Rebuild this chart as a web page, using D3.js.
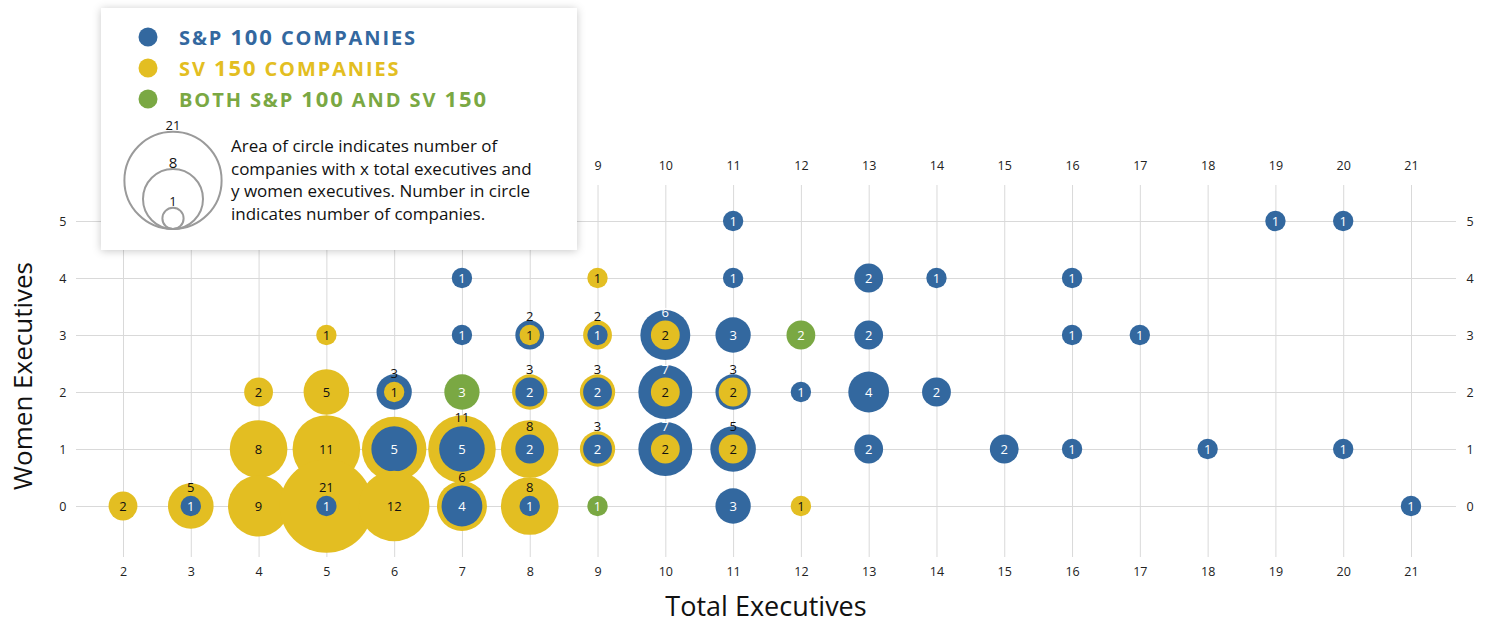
<!DOCTYPE html>
<html><head><meta charset="utf-8">
<script src="https://cdn.jsdelivr.net/npm/d3@7"></script>
<style>
html,body{margin:0;padding:0;background:#fff;}
svg{display:block;font-family:"Open Sans",sans-serif;}
</style></head>
<body>
<svg id="chart" width="1489" height="625"></svg>
<script>
// ---- data: [total executives, women executives, number of companies]
const spCompanies = [
  [3,0,1],[5,0,1],[6,1,5],[6,2,3],[7,0,4],[7,1,5],[7,3,1],[7,4,1],
  [8,0,1],[8,1,2],[8,2,2],[8,3,2],[9,1,2],[9,2,2],[9,3,1],
  [10,1,7],[10,2,7],[10,3,6],[11,0,3],[11,1,5],[11,2,3],[11,3,3],[11,4,1],[11,5,1],
  [12,2,1],[13,1,2],[13,2,4],[13,3,2],[13,4,2],[14,2,2],[14,4,1],[15,1,2],
  [16,1,1],[16,3,1],[16,4,1],[17,3,1],[18,1,1],[19,5,1],[20,1,1],[20,5,1],[21,0,1]
];
const svCompanies = [
  [2,0,2],[3,0,5],[4,0,9],[4,1,8],[4,2,2],[5,0,21],[5,1,11],[5,2,5],[5,3,1],
  [6,0,12],[6,1,10],[6,2,1],[7,0,6],[7,1,11],[8,0,8],[8,1,8],[8,2,3],[8,3,1],
  [9,1,3],[9,2,3],[9,3,2],[9,4,1],[10,1,2],[10,2,2],[10,3,2],[11,1,2],[11,2,2],[12,0,1]
];
const bothCompanies = [[7,2,3],[9,0,1],[12,3,2]];
const unlabeledOuter = ["6,1"];
const xTicks = d3.range(2, 22);
const yTicks = [0,1,2,3,4,5];
const legendItems = [
  {key:"sp", parts:[["S&P ","l"],["100","d"],[" COMPANIES","l"]]},
  {key:"sv", parts:[["SV ","l"],["150","d"],[" COMPANIES","l"]]},
  {key:"both", parts:[["BOTH S&P ","l"],["100","d"],[" AND SV ","l"],["150","d"]]}
];
const legendSizes = [21, 8, 1];
const legendNote = ["Area of circle indicates number of","companies with x total executives and","y women executives. Number in circle","indicates number of companies."];

const colors = {sp:"#33689f", sv:"#e3be22", both:"#7aa843"};
const labelColors = {sp:"#ffffff", sv:"#111111", both:"#ffffff"};

const svg = d3.select("#chart");
const x = d3.scaleLinear().domain([2,21]).range([123,1411]);
const y = d3.scaleLinear().domain([0,5]).range([506,221]);
const r = d3.scaleSqrt().domain([0,21]).range([0,46.7]);

const gridTop = 185, gridBottom = 557, gridLeft = 76, gridRight = 1456;
const legendBox = {x:101, y:8, w:476, h:242};

function styleAxis(g){
  g.select(".domain").remove();
  g.selectAll(".tick line").attr("stroke","#d9d9d9").attr("stroke-width",1);
  g.selectAll(".tick text").attr("font-family","'Open Sans',sans-serif").attr("font-size",12.5).attr("fill","#222");
}
// vertical grid + bottom labels
svg.append("g").attr("transform",`translate(0,${gridBottom})`)
  .call(d3.axisBottom(x).tickValues(xTicks).tickFormat(d3.format("d")).tickSize(-(gridBottom-gridTop)).tickPadding(10.5))
  .call(styleAxis);
// top labels (those under the legend box are hidden in the original)
svg.append("g").attr("transform",`translate(0,${gridTop})`)
  .call(d3.axisTop(x).tickValues(xTicks.filter(d=>x(d)>legendBox.x+legendBox.w)).tickFormat(d3.format("d")).tickSize(0).tickPadding(15.5))
  .call(styleAxis);
// horizontal grid + left labels
svg.append("g").attr("transform",`translate(${gridLeft},0)`)
  .call(d3.axisLeft(y).tickValues(yTicks).tickFormat(d3.format("d")).tickSize(-(gridRight-gridLeft)).tickPadding(9.5))
  .call(styleAxis);
// right labels
svg.append("g").attr("transform",`translate(${gridRight},0)`)
  .call(d3.axisRight(y).tickValues(yTicks).tickFormat(d3.format("d")).tickSize(0).tickPadding(10.5))
  .call(styleAxis);

// axis titles
svg.append("text").attr("x",766).attr("y",616).attr("text-anchor","middle")
  .attr("font-size",27).attr("fill","#111").text("Total Executives");
svg.append("text").attr("transform","translate(32,376) rotate(-90)").attr("text-anchor","middle")
  .attr("font-size",26).attr("fill","#111").text("Women Executives");

// build cells
const cells = new Map();
function add(arr, key){
  arr.forEach(([t,w,n])=>{
    const k = t+","+w;
    if(!cells.has(k)) cells.set(k,{t,w,k,items:[]});
    cells.get(k).items.push({key, n});
  });
}
add(spCompanies,"sp"); add(svCompanies,"sv"); add(bothCompanies,"both");
const cellList = Array.from(cells.values()).sort((a,b)=> b.w-a.w || a.t-b.t);
cellList.forEach(c=> c.items.sort((a,b)=> b.n-a.n));

const bubbles = svg.append("g");
cellList.forEach(c=>{
  c.items.forEach(it=>{
    bubbles.append("circle").attr("cx",x(c.t)).attr("cy",y(c.w)).attr("r",r(it.n)).attr("fill",colors[it.key]);
  });
});
const labels = svg.append("g").attr("font-size",13).attr("text-anchor","middle");
cellList.forEach(c=>{
  const cx = x(c.t), cy = y(c.w);
  const inner = c.items[c.items.length-1];
  labels.append("text").attr("x",cx).attr("y",cy).attr("dy","0.36em")
    .attr("fill",labelColors[inner.key]).text(inner.n);
  if(c.items.length>1 && !unlabeledOuter.includes(c.k)){
    const outer = c.items[0];
    const off = r(inner.n) + 8.5;
    const inside = r(outer.n) - off > 1.5;
    labels.append("text").attr("x",cx).attr("y",cy-off).attr("dy","0.36em")
      .attr("fill", inside ? labelColors[outer.key] : "#111").text(outer.n);
  }
});

// legend
const defs = svg.append("defs");
const f = defs.append("filter").attr("id","shadow").attr("x","-10%").attr("y","-10%").attr("width","120%").attr("height","120%");
f.append("feDropShadow").attr("dx",0).attr("dy",1).attr("stdDeviation",4).attr("flood-color","#000").attr("flood-opacity",0.22);
const lg = svg.append("g");
lg.append("rect").attr("x",legendBox.x).attr("y",legendBox.y).attr("width",legendBox.w).attr("height",legendBox.h).attr("fill","#fff").attr("filter","url(#shadow)");
legendItems.forEach((it,i)=>{
  const yy = 37 + i*31;
  lg.append("circle").attr("cx",148).attr("cy",yy).attr("r",9.5).attr("fill",colors[it.key]);
  const t = lg.append("text").attr("x",179).attr("y",yy+8).attr("fill",colors[it.key])
    .attr("font-weight",700).attr("letter-spacing",1.9);
  it.parts.forEach(([s,kind])=>{
    t.append("tspan").attr("font-size", kind==="d"?22:20).text(s);
  });
});
const lr = d3.scaleSqrt().domain([0,21]).range([0,48.6]);
const lcx = 173, lbottom = 229;
legendSizes.forEach(n=>{
  lg.append("circle").attr("cx",lcx).attr("cy",lbottom-lr(n)).attr("r",lr(n))
    .attr("fill","none").attr("stroke","#9a9a9a").attr("stroke-width",2);
  lg.append("text").attr("x",lcx).attr("y",lbottom-2*lr(n)-6).attr("dy","0.36em").attr("text-anchor","middle")
    .attr("font-size", n===8?15:13).attr("fill","#111").text(n);
});
legendNote.forEach((s,i)=>{
  lg.append("text").attr("x",231).attr("y",152+i*22.7).attr("font-size",17).attr("fill","#111").text(s);
});
</script>
</body></html>
